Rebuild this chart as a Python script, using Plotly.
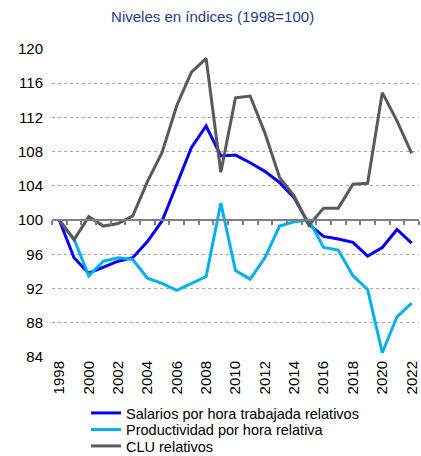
import plotly.graph_objects as go

years = list(range(1998, 2023))

salarios = [100.0, 95.6, 93.8, 94.5, 95.2, 95.6, 97.5, 99.9, 104.3, 108.5, 111.0,
            107.5, 107.6, 106.7, 105.7, 104.4, 102.6, 99.5, 98.1, 97.8, 97.4,
            95.8, 96.8, 98.9, 97.3]
productividad = [100.0, 97.8, 93.5, 95.2, 95.6, 95.4, 93.2, 92.6, 91.8, 92.6, 93.4,
                 102.0, 94.1, 93.1, 95.6, 99.3, 99.8, 100.0, 96.8, 96.5, 93.5,
                 91.9, 84.5, 88.7, 90.3]
clu = [100.0, 97.7, 100.4, 99.3, 99.6, 100.5, 104.5, 107.9, 113.4, 117.3, 118.9,
       105.6, 114.3, 114.5, 110.2, 105.0, 102.8, 99.4, 101.4, 101.4, 104.2,
       104.3, 114.9, 111.6, 107.8]

series = [
    ("Salarios por hora trabajada relativos", salarios, "#0000FF"),
    ("Productividad por hora relativa", productividad, "#00B0F0"),
    ("CLU relativos", clu, "#595959"),
]

tick_years = years[::2]
y_ticks = list(range(84, 121, 4))
y_min, y_max = 84, 120
base = 100

W, H = 421, 456
font = "Liberation Sans, Arial, sans-serif"
x_range = [years[0] - 0.5, years[-1] + 0.5]

fig = go.Figure()
legend_names = ["legend", "legend2", "legend3"]
legend_rows = [413, 429.5, 446]  # pixel centre of each legend row
for (name, vals, color), lg in zip(series, legend_names):
    fig.add_trace(go.Scatter(x=years, y=vals, mode="lines", name=name,
                             legend=lg, line=dict(color=color, width=3)))

legend_style = dict(xref="container", yref="container", x=86 / W,
                    xanchor="left", yanchor="middle", bgcolor="rgba(0,0,0,0)",
                    font=dict(family=font, size=14.5, color="#000000"),
                    itemwidth=30)
legends = {lg: dict(legend_style, y=1 - row / H)
           for lg, row in zip(legend_names, legend_rows)}

fig.update_layout(
    width=W, height=H,
    margin=dict(l=52, r=2, t=49, b=99, autoexpand=False),
    paper_bgcolor="white", plot_bgcolor="white",
    font=dict(family=font, size=15, color="#000000"),
    title=dict(text="Niveles en índices (1998=100)", x=0.505, xanchor="center",
               y=1 - 17 / H, yanchor="middle",
               font=dict(family=font, size=15, color="#1F3C88")),
    showlegend=True,
    **legends,
    xaxis=dict(range=x_range, tickmode="array", tickvals=tick_years,
               ticktext=[str(y) for y in tick_years], tickangle=-90,
               showgrid=False, zeroline=False, showline=False, ticks="",
               tickfont=dict(size=15)),
    xaxis2=dict(range=x_range, overlaying="x", anchor="free",
                position=(base - y_min) / (y_max - y_min),
                showline=True, linecolor="#7F7F7F", linewidth=2,
                ticks="outside", ticklen=4, tickwidth=1.5, tickcolor="#7F7F7F",
                tickmode="array",
                tickvals=[y - 0.5 for y in years] + [years[-1] + 0.5],
                showticklabels=False, showgrid=False, zeroline=False),
    yaxis=dict(range=[y_min, y_max], tickmode="array", tickvals=y_ticks,
               showgrid=True, gridcolor="#A6A6A6", griddash="dot", gridwidth=1,
               zeroline=False, showline=False, ticks="", ticklabelstandoff=8,
               tickfont=dict(size=15)),
)

# empty trace so the overlay axis is drawn
fig.add_trace(go.Scatter(x=[years[0]], y=[base], xaxis="x2", mode="none",
                         showlegend=False, hoverinfo="skip"))

fig.write_html("out.html")
